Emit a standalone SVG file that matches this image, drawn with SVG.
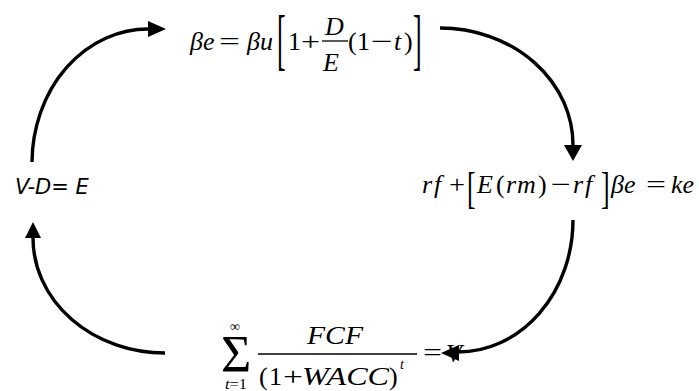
<svg xmlns="http://www.w3.org/2000/svg" width="699" height="391" viewBox="0 0 699 391">
<style>
  text { font-family: "Liberation Serif", "Times New Roman", serif; font-size: 26px; fill: #000; }
  .it { font-style: italic; }
  .sm { font-size: 14px; }
  .sans { font-family: "DejaVu Sans", "Liberation Sans", sans-serif; font-style: oblique; font-size: 21px; }
  .conn { fill: none; stroke: #000; stroke-width: 3.4; }
  .head { fill: #000; }
  .bar { stroke: #000; stroke-width: 1.3; }
</style>
<rect width="699" height="391" fill="#fff"/>

<g id="node-beta">
  <text class="it" x="190" y="50">βe</text>
  <text x="219" y="50" textLength="21" lengthAdjust="spacingAndGlyphs">=</text>
  <text class="it" x="247" y="50">βu</text>
  <text transform="translate(277,62.3) scale(1,2.63)">[</text>
  <text x="288" y="50">1</text>
  <text x="301" y="50" textLength="19" lengthAdjust="spacingAndGlyphs">+</text>
  <text class="it" x="325" y="35">D</text>
  <line class="bar" x1="322" y1="41" x2="348" y2="41"/>
  <text class="it" x="323" y="71">E</text>
  <text x="348" y="50">(</text>
  <text x="357" y="50">1</text>
  <text x="371" y="50" textLength="22" lengthAdjust="spacingAndGlyphs">−</text>
  <text class="it" x="394" y="50">t</text>
  <text x="404" y="50">)</text>
  <text transform="translate(413,62.3) scale(1,2.63)">]</text>
</g>

<g id="node-capm">
  <text class="it" x="422" y="193" letter-spacing="2">rf</text>
  <text x="449" y="193" textLength="16" lengthAdjust="spacingAndGlyphs">+</text>
  <text transform="translate(467,203) scale(1,1.69)">[</text>
  <text class="it" x="477" y="193">E</text>
  <text x="496" y="193">(</text>
  <text class="it" x="506" y="193" letter-spacing="1">rm</text>
  <text x="538" y="193">)</text>
  <text x="551" y="193" textLength="20" lengthAdjust="spacingAndGlyphs">−</text>
  <text class="it" x="573" y="193" letter-spacing="2">rf</text>
  <text transform="translate(601,203) scale(1,1.69)">]</text>
  <text class="it" x="611" y="193">βe</text>
  <text x="646" y="193" textLength="20" lengthAdjust="spacingAndGlyphs">=</text>
  <text class="it" x="671" y="193">ke</text>
</g>

<g id="node-dcf">
  <text class="sm" x="230" y="331">∞</text>
  <text x="221" y="372" style="font-size:52px">Σ</text>
  <text class="sm" x="225" y="389" textLength="22" lengthAdjust="spacingAndGlyphs"><tspan class="it">t</tspan>=1</text>
  <text class="it" x="307" y="344" textLength="56" lengthAdjust="spacingAndGlyphs">FCF</text>
  <line class="bar" x1="258" y1="354" x2="417" y2="354"/>
  <text x="259" y="385">(</text>
  <text x="269" y="385">1</text>
  <text x="283" y="385" textLength="20" lengthAdjust="spacingAndGlyphs">+</text>
  <text class="it" x="302" y="385" textLength="87" lengthAdjust="spacingAndGlyphs">WACC</text>
  <text x="389" y="385">)</text>
  <text class="sm it" x="400" y="369">t</text>
  <text x="423" y="361" textLength="19" lengthAdjust="spacingAndGlyphs">=</text>
  <text class="it" x="446" y="362">V</text>
</g>

<g id="node-equity">
  <text class="sans" x="15" y="194">V-D= E</text>
</g>

<g id="connectors">
  <path class="conn" d="M32,162 A116,134 0 0 1 149,29"/>
  <polygon class="head" points="166,29 148,21 148,37"/>
  <path class="conn" d="M440,28 A133,117 0 0 1 573,146"/>
  <polygon class="head" points="573,161 564,145 582,145"/>
  <path class="conn" d="M573,220 A115,132 0 0 1 458,352"/>
  <polygon class="head" points="441,353 459,345 459,361"/>
  <path class="conn" d="M165,353 A132,115 0 0 1 33,237"/>
  <polygon class="head" points="33,222 25,238 41,238"/>
</g>
</svg>
